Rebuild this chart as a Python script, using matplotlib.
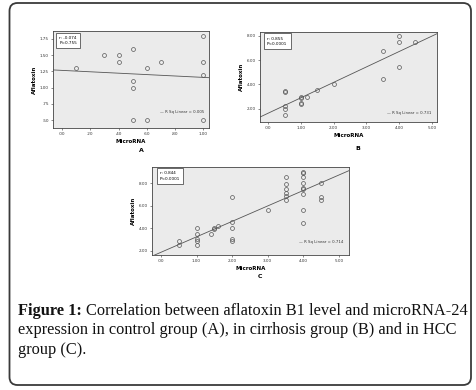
import matplotlib.pyplot as plt
from matplotlib.patches import FancyBboxPatch
import numpy as np

# panel A - control group
a_x = [0.10, 0.30, 0.40, 0.40, 0.50, 0.50, 0.50, 0.50, 0.60, 0.60, 0.70, 1.00, 1.00, 1.00, 1.00]
a_y = [1.30, 1.50, 1.50, 1.40, 1.60, 1.10, 1.00, 0.50, 1.30, 0.50, 1.40, 1.80, 1.40, 1.20, 0.50]
a_xticks = [0.0, 0.2, 0.4, 0.6, 0.8, 1.0]
a_xlabels = [".00", ".20", ".40", ".60", ".80", "1.00"]
a_yticks = [0.50, 0.75, 1.00, 1.25, 1.50, 1.75]
a_ylabels = [".50", ".75", "1.00", "1.25", "1.50", "1.75"]

# panel B - cirrhosis group
b_x = [0.5, 0.5, 0.5, 0.5, 0.5, 1.0, 1.0, 1.0, 1.0, 1.2, 1.5, 2.0, 3.5, 3.5, 4.0, 4.0, 4.0, 4.5]
b_y = [3.45, 3.35, 2.20, 2.00, 1.50, 2.95, 2.85, 2.50, 2.40, 3.00, 3.50, 4.00, 6.70, 4.45, 8.00, 7.50, 5.45, 7.50]
b_xticks = [0, 1, 2, 3, 4, 5]
b_xlabels = [".00", "1.00", "2.00", "3.00", "4.00", "5.00"]
b_yticks = [2, 4, 6, 8]
b_ylabels = ["2.00", "4.00", "6.00", "8.00"]

# panel C - HCC group
c_x = [0.5, 0.5, 1.0, 1.0, 1.0, 1.0, 1.0, 1.5, 1.5, 1.4, 1.6, 2.0, 2.0, 2.0, 2.0, 2.0,
       3.0, 3.5, 3.5, 3.5, 3.5, 3.5, 3.5, 4.0, 4.0, 4.0, 4.0, 4.0, 4.0, 4.0, 4.0, 4.0,
       4.5, 4.5, 4.5]
c_y = [2.90, 2.55, 4.00, 3.50, 3.00, 2.90, 2.50, 4.00, 3.90, 3.50, 4.20, 6.80, 4.55, 4.00, 3.05, 2.90,
       5.60, 8.55, 7.95, 7.50, 7.10, 6.90, 6.55, 9.00, 8.90, 8.55, 8.00, 7.60, 7.45, 7.05, 5.60, 4.50,
       8.00, 6.75, 6.55]
c_xticks = [0, 1, 2, 3, 4, 5]
c_xlabels = [".00", "1.00", "2.00", "3.00", "4.00", "5.00"]
c_yticks = [2, 4, 6, 8]
c_ylabels = ["2.00", "4.00", "6.00", "8.00"]

stats = {"A": ("r: -0.074", "P=0.755", "R Sq Linear = 0.005"),
         "B": ("r: 0.855", "P<0.0001", "R Sq Linear = 0.731"),
         "C": ("r: 0.844", "P<0.0001", "R Sq Linear = 0.714")}

W, H = 476, 390
fig = plt.figure(figsize=(W / 100, H / 100), dpi=100)
fig.patch.set_facecolor("white")

# rounded frame around the whole figure
frame = FancyBboxPatch((0.095, 0.05), 4.615, 3.82, boxstyle="round,pad=0,rounding_size=0.08",
                       transform=fig.dpi_scale_trans, facecolor="none", edgecolor="#3a3a3a", lw=1.3)
fig.add_artist(frame)


def px_axes(x0, y0, x1, y1):
    # pixel box (from top-left) -> figure axes
    return fig.add_axes([x0 / W, 1 - y1 / H, (x1 - x0) / W, (y1 - y0) / H])


def scatter_panel(ax, xs, ys, xlim, ylim, xticks, xlabels, yticks, ylabels, key, rsq_pos):
    ax.set_facecolor("#ebebeb")
    ax.plot(xs, ys, "o", ms=2.8, mfc="none", mec="#555555", mew=0.5)
    slope, intercept = np.polyfit(xs, ys, 1)
    fx = np.array(xlim)
    ax.plot(fx, slope * fx + intercept, color="#555555", lw=0.6)
    ax.set_xlim(xlim)
    ax.set_ylim(ylim)
    ax.set_xticks(xticks)
    ax.set_xticklabels(xlabels)
    ax.set_yticks(yticks)
    ax.set_yticklabels(ylabels)
    ax.tick_params(labelsize=3, length=1.5, width=0.4, pad=1.5, colors="#333333")
    for s in ax.spines.values():
        s.set_color("#444444")
        s.set_linewidth(0.6)
    ax.set_xlabel("MicroRNA", fontsize=4, fontweight="bold", labelpad=2)
    ax.set_ylabel("Aflatoxin", fontsize=4, fontweight="bold", labelpad=2)
    r, p, rsq = stats[key]
    ax.text(0.04, 0.95, r + "\n" + p, transform=ax.transAxes, fontsize=3, va="top", ha="left",
            linespacing=1.4, bbox=dict(boxstyle="square,pad=0.8", fc="white", ec="#333333", lw=0.5))
    ax.text(rsq_pos[0], rsq_pos[1], "\u2014 " + rsq, transform=ax.transAxes, fontsize=2.8,
            va="center", ha="right", color="#333333")


ax_a = px_axes(53, 31, 209, 128)
scatter_panel(ax_a, a_x, a_y, (-0.064, 1.04), (0.377, 1.873), a_xticks, a_xlabels,
              a_yticks, a_ylabels, "A", (0.97, 0.16))

ax_b = px_axes(260, 32, 437, 122)
scatter_panel(ax_b, b_x, b_y, (-0.25, 5.16), (0.91, 8.30), b_xticks, b_xlabels,
              b_yticks, b_ylabels, "B", (0.97, 0.10))

ax_c = px_axes(152, 167, 349, 255)
scatter_panel(ax_c, c_x, c_y, (-0.25, 5.28), (1.62, 9.44), c_xticks, c_xlabels,
              c_yticks, c_ylabels, "C", (0.97, 0.15))

# panel letters
fig.text(141 / W, 1 - 150 / H, "A", fontsize=4.5, fontweight="bold", ha="center", va="center")
fig.text(358 / W, 1 - 148 / H, "B", fontsize=4.5, fontweight="bold", ha="center", va="center")
fig.text(260 / W, 1 - 277 / H, "C", fontsize=4.5, fontweight="bold", ha="center", va="center")

# caption
cap = dict(fontsize=11.8, family="Liberation Serif", va="baseline", ha="left", color="#111111")
t = fig.text(18 / W, 1 - 315 / H, "Figure 1:", fontweight="bold", **cap)
fig.canvas.draw()
bb = t.get_window_extent()
fig.text(bb.x1 / W + 0.008, 1 - 315 / H,
         "Correlation between aflatoxin B1 level and microRNA-24", **cap)
fig.text(18 / W, 1 - 334.5 / H,
         "expression in control group (A), in cirrhosis group (B) and in HCC", **cap)
fig.text(18 / W, 1 - 354 / H, "group (C).", **cap)

fig.savefig("out.png", dpi=100)
